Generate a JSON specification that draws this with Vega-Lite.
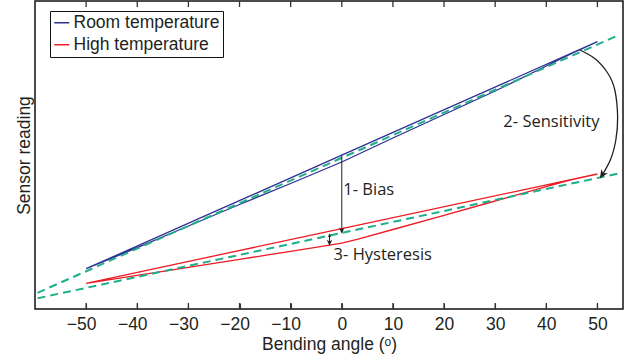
{
  "$schema": "https://vega.github.io/schema/vega-lite/v6.json",
  "width": 588,
  "height": 308,
  "autosize": {"type": "none"},
  "padding": {"left": 35, "top": 1, "right": 15, "bottom": 53},
  "background": "white",
  "config": {
    "view": {"stroke": "#111111", "strokeWidth": 1.5},
    "font": "Liberation Sans",
    "axis": {
      "labelFont": "Liberation Sans",
      "titleFont": "Liberation Sans",
      "labelFontSize": 17.5,
      "titleFontSize": 17.5,
      "titleFontWeight": "normal",
      "labelColor": "#231f20",
      "titleColor": "#231f20",
      "grid": false,
      "domain": false,
      "minExtent": 0,
      "zindex": 1
    },
    "legend": {
      "orient": "none",
      "legendX": 15,
      "legendY": 10,
      "strokeColor": "#111111",
      "fillColor": "white",
      "padding": 3,
      "labelFont": "Liberation Sans",
      "labelFontSize": 17.5,
      "labelColor": "#231f20",
      "labelLimit": 400,
      "labelOffset": 3,
      "symbolType": "stroke",
      "symbolSize": 225,
      "symbolStrokeWidth": 1.5,
      "rowPadding": 3
    }
  },
  "datasets": {
    "loops": [
      {"series": "Room temperature", "i": 1, "x": -50, "y": 40.3},
      {"series": "Room temperature", "i": 2, "x": -25, "y": 97.05},
      {"series": "Room temperature", "i": 3, "x": 0, "y": 153.8},
      {"series": "Room temperature", "i": 4, "x": 25, "y": 210.55},
      {"series": "Room temperature", "i": 5, "x": 50, "y": 267.3},
      {"series": "Room temperature", "i": 6, "x": 45, "y": 255.5},
      {"series": "Room temperature", "i": 7, "x": 40, "y": 243},
      {"series": "Room temperature", "i": 8, "x": 30, "y": 218},
      {"series": "Room temperature", "i": 9, "x": 20, "y": 194.5},
      {"series": "Room temperature", "i": 10, "x": 10, "y": 171},
      {"series": "Room temperature", "i": 11, "x": 0, "y": 147},
      {"series": "Room temperature", "i": 12, "x": -10, "y": 125.5},
      {"series": "Room temperature", "i": 13, "x": -20, "y": 104.5},
      {"series": "Room temperature", "i": 14, "x": -30, "y": 83},
      {"series": "Room temperature", "i": 15, "x": -40, "y": 61.3},
      {"series": "Room temperature", "i": 16, "x": -50, "y": 40.3},
      {"series": "High temperature", "i": 1, "x": -50, "y": 25.7},
      {"series": "High temperature", "i": 2, "x": 0, "y": 80.35},
      {"series": "High temperature", "i": 3, "x": 50, "y": 135},
      {"series": "High temperature", "i": 4, "x": 45, "y": 129.5},
      {"series": "High temperature", "i": 5, "x": 40, "y": 122.3},
      {"series": "High temperature", "i": 6, "x": 30, "y": 108},
      {"series": "High temperature", "i": 7, "x": 20, "y": 93.7},
      {"series": "High temperature", "i": 8, "x": 10, "y": 79.5},
      {"series": "High temperature", "i": 9, "x": 3, "y": 69.6},
      {"series": "High temperature", "i": 10, "x": 0, "y": 65.8},
      {"series": "High temperature", "i": 11, "x": -3, "y": 63.3},
      {"series": "High temperature", "i": 12, "x": -10, "y": 57.7},
      {"series": "High temperature", "i": 13, "x": -20, "y": 49.7},
      {"series": "High temperature", "i": 14, "x": -30, "y": 41.7},
      {"series": "High temperature", "i": 15, "x": -40, "y": 33.7},
      {"series": "High temperature", "i": 16, "x": -50, "y": 25.7}
    ],
    "fits": [
      {"fit": "room", "x": -59.5, "y": 16.2},
      {"fit": "room", "x": 54, "y": 273.6},
      {"fit": "high", "x": -59.5, "y": 10.7},
      {"fit": "high", "x": 54, "y": 135.4}
    ],
    "arc": [
      {"i": 1, "x": 46.57, "y": 259},
      {"i": 2, "x": 49.6, "y": 250},
      {"i": 3, "x": 52.0, "y": 236},
      {"i": 4, "x": 53.4, "y": 219},
      {"i": 5, "x": 53.95, "y": 192},
      {"i": 6, "x": 53.6, "y": 169},
      {"i": 7, "x": 52.6, "y": 150},
      {"i": 8, "x": 51.0, "y": 134.5}
    ],
    "notes": [
      {"x": 0.3, "y": 119.5, "label": "1- Bias"},
      {"x": 31.6, "y": 187.5, "label": "2- Sensitivity"},
      {"x": -1.6, "y": 54, "label": "3- Hysteresis"}
    ],
    "ticks": [
      {"x": -50}, {"x": -40}, {"x": -30}, {"x": -20}, {"x": -10}, {"x": 0},
      {"x": 10}, {"x": 20}, {"x": 30}, {"x": 40}, {"x": 50}
    ]
  },
  "resolve": {"axis": {"x": "independent"}},
  "layer": [
    {
      "data": {"name": "loops"},
      "mark": {"type": "line", "strokeWidth": 1.3},
      "encoding": {
        "x": {
          "field": "x", "type": "quantitative",
          "scale": {"domain": [-60, 55], "nice": false, "zero": false},
          "axis": {
            "orient": "bottom",
            "values": [-50, -40, -30, -20, -10, 0, 10, 20, 30, 40, 50],
            "ticks": true,
            "tickSize": -6,
            "tickColor": "#333333",
            "tickWidth": 1.1,
            "labelPadding": 12,
            "labelOffset": {"condition": {"test": "datum.value < 0", "value": -5}, "value": 0},
            "title": "Bending angle (ᵒ)",
            "titlePadding": 3
          }
        },
        "y": {
          "field": "y", "type": "quantitative",
          "scale": {"domain": [0, 308], "nice": false, "zero": false},
          "axis": {"labels": false, "ticks": false, "title": "Sensor reading", "titlePadding": 2}
        },
        "color": {
          "field": "series", "type": "nominal",
          "scale": {"domain": ["Room temperature", "High temperature"], "range": ["#2e3192", "#ed1c24"]},
          "legend": {"title": null}
        },
        "order": {"field": "i", "type": "quantitative"}
      }
    },
    {
      "data": {"name": "ticks"},
      "mark": {"type": "rule", "color": "#333333", "strokeWidth": 1.3},
      "encoding": {
        "x": {"field": "x", "type": "quantitative", "axis": null},
        "y": {"datum": 308, "type": "quantitative"},
        "y2": {"datum": 302}
      }
    },
    {
      "data": {"name": "ticks"},
      "mark": {"type": "rule", "color": "#333333", "strokeWidth": 1.3},
      "encoding": {
        "x": {"field": "x", "type": "quantitative", "axis": null},
        "y": {"datum": 0, "type": "quantitative"},
        "y2": {"datum": 6}
      }
    },
    {
      "data": {"name": "fits"},
      "mark": {"type": "line", "strokeWidth": 2, "strokeDash": [8, 5], "color": "#1fae8a"},
      "encoding": {
        "x": {"field": "x", "type": "quantitative", "axis": null},
        "y": {"field": "y", "type": "quantitative"},
        "detail": {"field": "fit", "type": "nominal"}
      }
    },
    {
      "data": {"values": [{"x": 0, "y": 153.8, "y2": 78}, {"x": -2.4, "y": 73.5, "y2": 65.3}]},
      "mark": {"type": "rule", "color": "#231f20", "strokeWidth": 1},
      "encoding": {
        "x": {"field": "x", "type": "quantitative", "axis": null},
        "y": {"field": "y", "type": "quantitative"},
        "y2": {"field": "y2"}
      }
    },
    {
      "data": {"values": [{"x": 0, "y": 75.3}, {"x": -2.4, "y": 63.2}]},
      "mark": {"type": "point", "shape": "M0,0 L-0.45,-1 L0,-0.7 L0.45,-1 Z", "filled": true, "opacity": 1, "color": "#231f20", "size": 150, "angle": 0},
      "encoding": {
        "x": {"field": "x", "type": "quantitative", "axis": null},
        "y": {"field": "y", "type": "quantitative"}
      }
    },
    {
      "data": {"values": [{"x": -2.4, "y": 75.6}]},
      "mark": {"type": "point", "shape": "M0,0 L-0.45,-1 L0,-0.7 L0.45,-1 Z", "filled": true, "opacity": 1, "color": "#231f20", "size": 70, "angle": 180},
      "encoding": {
        "x": {"field": "x", "type": "quantitative", "axis": null},
        "y": {"field": "y", "type": "quantitative"}
      }
    },
    {
      "data": {"name": "arc"},
      "mark": {"type": "line", "interpolate": "natural", "color": "#231f20", "strokeWidth": 1.3},
      "encoding": {
        "x": {"field": "x", "type": "quantitative", "axis": null},
        "y": {"field": "y", "type": "quantitative"},
        "order": {"field": "i", "type": "quantitative"}
      }
    },
    {
      "data": {"values": [{"x": 50.48, "y": 130.7}]},
      "mark": {"type": "point", "shape": "M0,0 L-0.45,-1 L0,-0.7 L0.45,-1 Z", "filled": true, "opacity": 1, "color": "#231f20", "size": 300, "angle": 33},
      "encoding": {
        "x": {"field": "x", "type": "quantitative", "axis": null},
        "y": {"field": "y", "type": "quantitative"}
      }
    },
    {
      "data": {"name": "notes"},
      "mark": {"type": "text", "align": "left", "baseline": "middle", "font": "Open Sans", "fontSize": 16.5, "color": "#231f20"},
      "encoding": {
        "x": {"field": "x", "type": "quantitative", "axis": null},
        "y": {"field": "y", "type": "quantitative"},
        "text": {"field": "label"}
      }
    }
  ]
}
